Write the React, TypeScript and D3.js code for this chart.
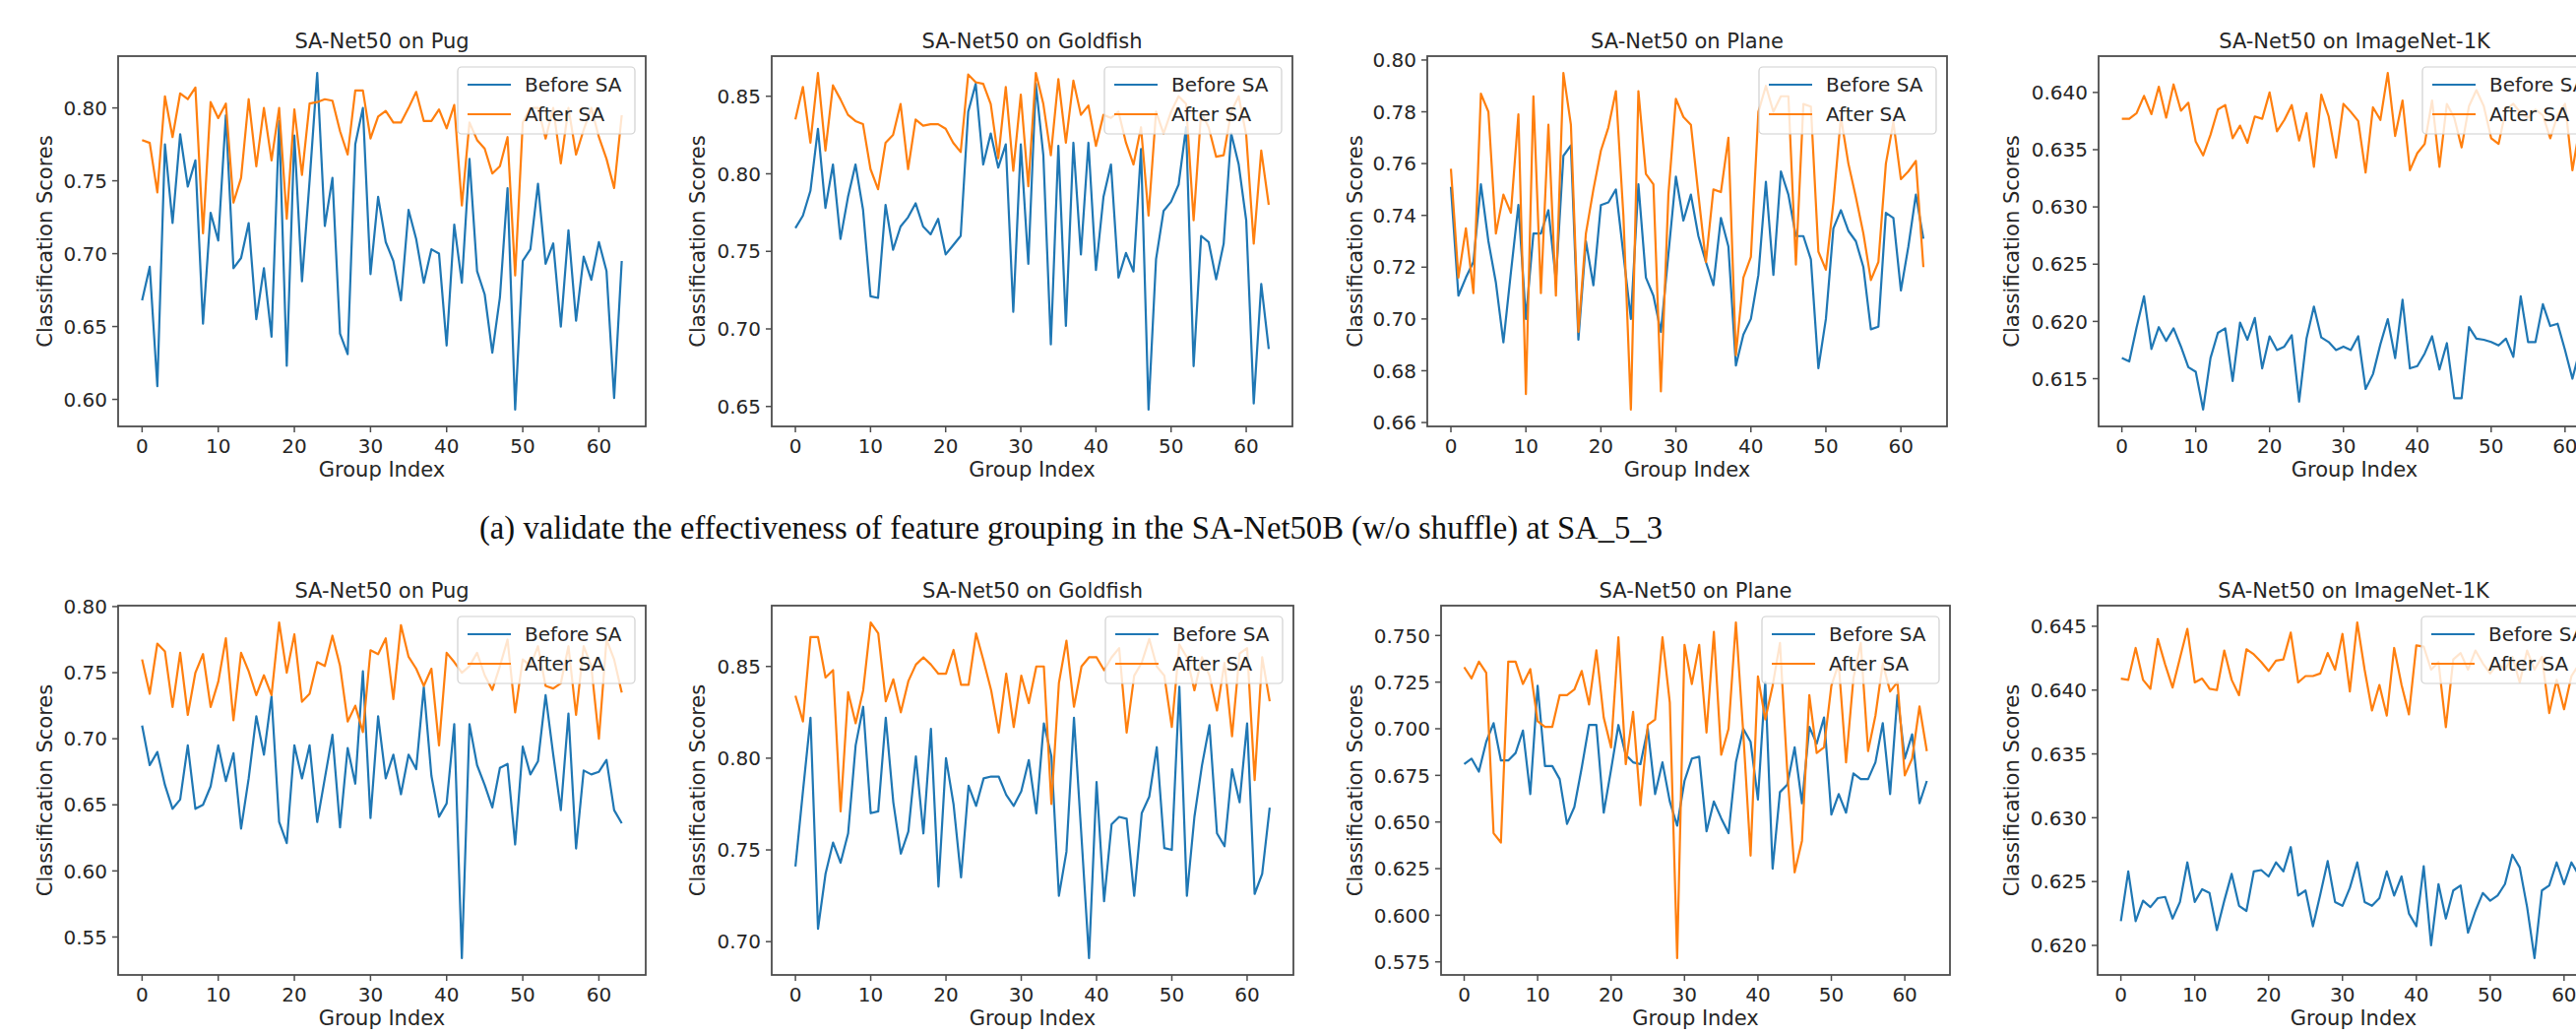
import React from "react";
import * as d3 from "d3";

// group index 0..63
const groupIndex = d3.range(64);
const xTicks = [0, 10, 20, 30, 40, 50, 60];

const titles = [
  "SA-Net50 on Pug",
  "SA-Net50 on Goldfish",
  "SA-Net50 on Plane",
  "SA-Net50 on ImageNet-1K",
  "SA-Net50 on Pug",
  "SA-Net50 on Goldfish",
  "SA-Net50 on Plane",
  "SA-Net50 on ImageNet-1K",
];

const caption =
  "(a) validate the effectiveness of feature grouping in the SA-Net50B (w/o shuffle) at SA_5_3";

// row (a)
const pugBeforeA = [0.668,0.691,0.609,0.775,0.721,0.782,0.746,0.764,0.652,0.728,0.709,0.795,0.690,0.697,0.721,0.655,0.690,0.643,0.791,0.623,0.781,0.681,0.750,0.824,0.719,0.752,0.645,0.631,0.775,0.800,0.686,0.739,0.708,0.695,0.668,0.730,0.710,0.680,0.703,0.700,0.637,0.720,0.680,0.765,0.688,0.672,0.632,0.670,0.745,0.593,0.695,0.703,0.748,0.693,0.707,0.650,0.716,0.654,0.698,0.682,0.708,0.688,0.601,0.695];
const pugAfterA = [0.778,0.776,0.742,0.808,0.780,0.810,0.806,0.814,0.714,0.804,0.793,0.803,0.735,0.752,0.806,0.760,0.800,0.764,0.800,0.724,0.799,0.754,0.803,0.804,0.806,0.805,0.784,0.768,0.812,0.812,0.779,0.794,0.798,0.790,0.790,0.800,0.811,0.791,0.791,0.799,0.786,0.802,0.733,0.790,0.778,0.772,0.755,0.760,0.780,0.685,0.790,0.800,0.800,0.779,0.800,0.762,0.800,0.768,0.785,0.800,0.780,0.765,0.745,0.795];

const goldfishBeforeA = [0.765,0.773,0.789,0.829,0.778,0.806,0.758,0.785,0.806,0.777,0.721,0.720,0.780,0.751,0.766,0.772,0.781,0.766,0.761,0.771,0.748,0.754,0.760,0.840,0.858,0.806,0.826,0.804,0.819,0.711,0.819,0.742,0.858,0.812,0.690,0.818,0.702,0.820,0.748,0.820,0.738,0.785,0.806,0.733,0.749,0.737,0.816,0.648,0.745,0.776,0.782,0.793,0.830,0.676,0.760,0.756,0.732,0.755,0.826,0.806,0.770,0.652,0.729,0.687];
const goldfishAfterA = [0.835,0.856,0.820,0.865,0.815,0.857,0.848,0.838,0.834,0.832,0.803,0.790,0.820,0.825,0.845,0.803,0.835,0.831,0.832,0.832,0.829,0.820,0.814,0.864,0.859,0.858,0.845,0.810,0.856,0.802,0.851,0.792,0.865,0.845,0.812,0.861,0.820,0.860,0.838,0.844,0.818,0.838,0.836,0.840,0.820,0.806,0.830,0.773,0.840,0.826,0.840,0.850,0.845,0.770,0.840,0.830,0.811,0.812,0.840,0.850,0.825,0.755,0.815,0.780];

const planeBeforeA = [0.751,0.709,0.716,0.722,0.752,0.730,0.714,0.691,0.718,0.744,0.700,0.733,0.733,0.742,0.715,0.763,0.767,0.692,0.730,0.713,0.744,0.745,0.750,0.725,0.700,0.752,0.716,0.709,0.695,0.725,0.755,0.738,0.748,0.732,0.722,0.713,0.739,0.728,0.682,0.694,0.700,0.717,0.753,0.717,0.757,0.748,0.732,0.732,0.723,0.681,0.700,0.735,0.742,0.734,0.730,0.720,0.696,0.697,0.741,0.739,0.711,0.728,0.748,0.731];
const planeAfterA = [0.758,0.716,0.735,0.710,0.787,0.780,0.733,0.748,0.741,0.779,0.671,0.786,0.710,0.775,0.709,0.795,0.775,0.695,0.733,0.750,0.765,0.774,0.788,0.740,0.665,0.788,0.756,0.752,0.672,0.748,0.785,0.778,0.775,0.748,0.722,0.750,0.749,0.770,0.686,0.716,0.724,0.780,0.790,0.780,0.786,0.786,0.721,0.783,0.782,0.726,0.719,0.745,0.778,0.760,0.747,0.733,0.715,0.722,0.760,0.776,0.754,0.757,0.761,0.720];

const imagenetBeforeA = [0.6168,0.6165,0.6195,0.6222,0.6176,0.6195,0.6183,0.6194,0.6178,0.6160,0.6156,0.6123,0.6168,0.6190,0.6194,0.6148,0.6199,0.6184,0.6203,0.6159,0.6187,0.6175,0.6178,0.6188,0.6130,0.6185,0.6213,0.6186,0.6182,0.6175,0.6178,0.6175,0.6187,0.6141,0.6154,0.6180,0.6202,0.6168,0.6219,0.6159,0.6161,0.6172,0.6187,0.6158,0.6181,0.6133,0.6133,0.6195,0.6185,0.6184,0.6182,0.6179,0.6185,0.6169,0.6222,0.6182,0.6182,0.6215,0.6196,0.6198,0.6175,0.6150,0.6175,0.6180];
const imagenetAfterA = [0.6377,0.6377,0.6382,0.6397,0.6381,0.6405,0.6378,0.6407,0.6384,0.6391,0.6357,0.6345,0.6363,0.6385,0.6389,0.6360,0.6371,0.6356,0.6379,0.6377,0.6400,0.6366,0.6376,0.6389,0.6358,0.6382,0.6335,0.6398,0.6379,0.6343,0.6390,0.6383,0.6375,0.6330,0.6387,0.6376,0.6417,0.6362,0.6393,0.6332,0.6347,0.6355,0.6393,0.6335,0.6390,0.6378,0.6352,0.6388,0.6402,0.6388,0.6360,0.6355,0.6385,0.6390,0.6382,0.6378,0.6385,0.6380,0.6360,0.6380,0.6390,0.6332,0.6370,0.6380];

// row (b)
const pugBeforeB = [0.710,0.680,0.690,0.665,0.647,0.654,0.695,0.647,0.650,0.664,0.695,0.668,0.689,0.632,0.670,0.717,0.688,0.732,0.637,0.621,0.695,0.670,0.695,0.637,0.670,0.703,0.633,0.693,0.666,0.751,0.640,0.717,0.670,0.688,0.658,0.688,0.677,0.739,0.672,0.641,0.651,0.711,0.534,0.711,0.680,0.665,0.648,0.678,0.681,0.620,0.694,0.673,0.683,0.733,0.688,0.646,0.719,0.617,0.676,0.673,0.675,0.684,0.646,0.636];
const pugAfterB = [0.760,0.734,0.772,0.766,0.724,0.765,0.718,0.750,0.764,0.724,0.743,0.776,0.714,0.765,0.751,0.733,0.748,0.733,0.788,0.750,0.779,0.728,0.734,0.758,0.755,0.778,0.755,0.713,0.725,0.705,0.767,0.764,0.776,0.730,0.786,0.762,0.753,0.740,0.753,0.695,0.765,0.758,0.750,0.755,0.765,0.748,0.737,0.755,0.775,0.720,0.760,0.755,0.770,0.740,0.738,0.742,0.770,0.718,0.770,0.755,0.700,0.775,0.760,0.735];

const goldfishBeforeB = [0.741,0.782,0.822,0.707,0.737,0.754,0.743,0.759,0.807,0.828,0.770,0.771,0.822,0.776,0.748,0.760,0.801,0.759,0.816,0.730,0.800,0.775,0.735,0.785,0.774,0.789,0.790,0.790,0.780,0.774,0.782,0.799,0.770,0.819,0.801,0.725,0.749,0.822,0.757,0.691,0.787,0.722,0.764,0.768,0.767,0.725,0.770,0.779,0.806,0.751,0.750,0.839,0.725,0.768,0.796,0.818,0.759,0.752,0.794,0.776,0.819,0.726,0.737,0.773];
const goldfishAfterB = [0.834,0.820,0.866,0.866,0.844,0.848,0.771,0.836,0.819,0.837,0.874,0.868,0.831,0.843,0.825,0.842,0.851,0.855,0.851,0.846,0.846,0.859,0.840,0.840,0.868,0.853,0.837,0.814,0.846,0.817,0.845,0.830,0.850,0.850,0.775,0.841,0.864,0.828,0.850,0.855,0.855,0.848,0.855,0.860,0.814,0.845,0.852,0.865,0.850,0.845,0.817,0.862,0.855,0.837,0.855,0.845,0.826,0.852,0.812,0.857,0.860,0.788,0.855,0.831];

const planeBeforeB = [0.681,0.684,0.677,0.693,0.703,0.683,0.683,0.687,0.699,0.665,0.723,0.680,0.680,0.673,0.649,0.658,0.679,0.702,0.702,0.655,0.678,0.702,0.686,0.682,0.681,0.700,0.665,0.682,0.661,0.648,0.672,0.684,0.685,0.645,0.661,0.652,0.644,0.682,0.700,0.693,0.662,0.725,0.625,0.666,0.670,0.690,0.660,0.701,0.692,0.706,0.654,0.665,0.655,0.676,0.673,0.673,0.682,0.703,0.665,0.718,0.684,0.697,0.660,0.672];
const planeAfterB = [0.733,0.727,0.736,0.730,0.644,0.639,0.736,0.736,0.724,0.732,0.704,0.701,0.701,0.718,0.718,0.721,0.731,0.713,0.742,0.706,0.690,0.749,0.681,0.709,0.659,0.702,0.705,0.749,0.714,0.577,0.745,0.724,0.745,0.698,0.752,0.686,0.700,0.757,0.698,0.632,0.728,0.705,0.723,0.746,0.677,0.623,0.640,0.718,0.687,0.690,0.723,0.735,0.682,0.727,0.746,0.688,0.707,0.735,0.720,0.725,0.675,0.684,0.712,0.688];

const imagenetBeforeB = [0.6219,0.6258,0.6219,0.6235,0.6230,0.6237,0.6238,0.6221,0.6234,0.6265,0.6234,0.6244,0.6241,0.6212,0.6235,0.6256,0.6231,0.6227,0.6258,0.6259,0.6254,0.6265,0.6258,0.6277,0.6239,0.6243,0.6215,0.6240,0.6266,0.6234,0.6231,0.6245,0.6265,0.6234,0.6231,0.6237,0.6258,0.6239,0.6254,0.6225,0.6215,0.6262,0.6200,0.6248,0.6221,0.6243,0.6247,0.6210,0.6227,0.6241,0.6235,0.6239,0.6248,0.6271,0.6261,0.6230,0.6190,0.6243,0.6247,0.6265,0.6248,0.6265,0.6255,0.6245];
const imagenetAfterB = [0.6409,0.6408,0.6433,0.6408,0.6401,0.6440,0.6420,0.6402,0.6425,0.6448,0.6406,0.6409,0.6401,0.6400,0.6431,0.6408,0.6396,0.6432,0.6428,0.6422,0.6415,0.6423,0.6424,0.6445,0.6406,0.6411,0.6411,0.6413,0.6429,0.6416,0.6444,0.6399,0.6453,0.6416,0.6384,0.6404,0.6380,0.6433,0.6404,0.6381,0.6435,0.6434,0.6416,0.6422,0.6371,0.6424,0.6429,0.6416,0.6431,0.6421,0.6413,0.6421,0.6416,0.6426,0.6406,0.6431,0.6416,0.6426,0.6382,0.6408,0.6385,0.6411,0.6420,0.6410];

// y tick labels per panel
const yTicksPugA = [0.6, 0.65, 0.7, 0.75, 0.8];
const yTicksGoldfishA = [0.65, 0.7, 0.75, 0.8, 0.85];
const yTicksPlaneA = [0.66, 0.68, 0.7, 0.72, 0.74, 0.76, 0.78, 0.8];
const yTicksImagenetA = [0.615, 0.62, 0.625, 0.63, 0.635, 0.64];
const yTicksPugB = [0.55, 0.6, 0.65, 0.7, 0.75, 0.8];
const yTicksGoldfishB = [0.7, 0.75, 0.8, 0.85];
const yTicksPlaneB = [0.575, 0.6, 0.625, 0.65, 0.675, 0.7, 0.725, 0.75];
const yTicksImagenetB = [0.62, 0.625, 0.63, 0.635, 0.64, 0.645];

const seriesNames = ["Before SA", "After SA"];
const colors = ["#1f77b4", "#ff7f0e"];

// panel boxes in page pixels
const boxes = [
  { left: 120, right: 656, top: 57, bottom: 433, labelX: 45, dec: 2 },
  { left: 784, right: 1313, top: 57, bottom: 433, labelX: 708, dec: 2 },
  { left: 1450, right: 1978, top: 57, bottom: 433, labelX: 1376, dec: 2 },
  { left: 2132, right: 2652, top: 57, bottom: 433, labelX: 2043, dec: 3 },
  { left: 120, right: 656, top: 615, bottom: 990, labelX: 45, dec: 2 },
  { left: 784, right: 1314, top: 615, bottom: 990, labelX: 708, dec: 2 },
  { left: 1464, right: 1981, top: 615, bottom: 990, labelX: 1376, dec: 3 },
  { left: 2131, right: 2651, top: 615, bottom: 990, labelX: 2043, dec: 3 },
];

const panels = [
  [pugBeforeA, pugAfterA, yTicksPugA],
  [goldfishBeforeA, goldfishAfterA, yTicksGoldfishA],
  [planeBeforeA, planeAfterA, yTicksPlaneA],
  [imagenetBeforeA, imagenetAfterA, yTicksImagenetA],
  [pugBeforeB, pugAfterB, yTicksPugB],
  [goldfishBeforeB, goldfishAfterB, yTicksGoldfishB],
  [planeBeforeB, planeAfterB, yTicksPlaneB],
  [imagenetBeforeB, imagenetAfterB, yTicksImagenetB],
];

const FONT = "DejaVu Sans, Verdana, sans-serif";
const INK = "#262626";
const SPINE = "#4d4d4d";

function Panel({ idx }: { idx: number }) {
  const b = boxes[idx];
  const [before, after, yTicks] = panels[idx] as [number[], number[], number[]];
  const all = before.concat(after);
  const [lo, hi] = d3.extent(all) as [number, number];
  const pad = (hi - lo) * 0.05;

  const x = d3.scaleLinear().domain([-3.15, 66.15]).range([b.left, b.right]);
  const y = d3.scaleLinear().domain([lo - pad, hi + pad]).range([b.bottom, b.top]);
  const line = d3
    .line<number>()
    .x((_, i) => x(groupIndex[i]))
    .y((d) => y(d));

  const fmt = d3.format(`.${b.dec}f`);
  const clipId = `clip-${idx}`;
  const midX = (b.left + b.right) / 2;
  const midY = (b.top + b.bottom) / 2;

  // legend geometry (upper right)
  const lw = 180, lh = 68;
  const lx = b.right - 11 - lw;
  const ly = b.top + 11;

  return (
    <g>
      <defs>
        <clipPath id={clipId}>
          <rect x={b.left} y={b.top} width={b.right - b.left} height={b.bottom - b.top} />
        </clipPath>
      </defs>
      <rect x={b.left} y={b.top} width={b.right - b.left} height={b.bottom - b.top} fill="#fff" />

      <g clipPath={`url(#${clipId})`}>
        {[before, after].map((s, k) => (
          <path key={k} d={line(s) || ""} fill="none" stroke={colors[k]} strokeWidth={2.2} strokeLinejoin="round" />
        ))}
      </g>

      <rect x={b.left} y={b.top} width={b.right - b.left} height={b.bottom - b.top} fill="none" stroke={SPINE} strokeWidth={1.8} />

      {/* y axis */}
      {yTicks.map((t) => (
        <g key={t}>
          <line x1={b.left - 6} x2={b.left} y1={y(t)} y2={y(t)} stroke={SPINE} strokeWidth={1.5} />
          <text x={b.left - 11} y={y(t)} dy="0.36em" textAnchor="end" fontSize={20} fill={INK} fontFamily={FONT}>
            {fmt(t)}
          </text>
        </g>
      ))}
      <text
        transform={`translate(${b.labelX},${midY}) rotate(-90)`}
        textAnchor="middle"
        dy="0.36em"
        fontSize={21}
        fill={INK}
        fontFamily={FONT}
      >
        Classification Scores
      </text>

      {/* x axis */}
      {xTicks.map((t) => (
        <g key={t}>
          <line x1={x(t)} x2={x(t)} y1={b.bottom} y2={b.bottom + 6} stroke={SPINE} strokeWidth={1.5} />
          <text x={x(t)} y={b.bottom + 27} textAnchor="middle" fontSize={20} fill={INK} fontFamily={FONT}>
            {t}
          </text>
        </g>
      ))}
      <text x={midX} y={b.bottom + 51} textAnchor="middle" fontSize={21} fill={INK} fontFamily={FONT}>
        Group Index
      </text>

      <text x={midX} y={b.top - 8} textAnchor="middle" fontSize={21} fill={INK} fontFamily={FONT}>
        {titles[idx]}
      </text>

      {/* legend */}
      <rect x={lx} y={ly} width={lw} height={lh} rx={4} fill="#fff" fillOpacity={0.8} stroke="#d0d0d0" strokeWidth={1.2} />
      {seriesNames.map((n, k) => (
        <g key={n}>
          <line x1={lx + 10} x2={lx + 54} y1={ly + 18 + k * 30} y2={ly + 18 + k * 30} stroke={colors[k]} strokeWidth={2.2} />
          <text x={lx + 68} y={ly + 18 + k * 30} dy="0.36em" fontSize={20} fill={INK} fontFamily={FONT}>
            {n}
          </text>
        </g>
      ))}
    </g>
  );
}

export default function App() {
  return (
    <svg
      width={2617}
      height={1052}
      style={{ position: "absolute", left: 0, top: 0, background: "#fff" }}
    >
      <rect width={2617} height={1052} fill="#fff" />
      {boxes.map((_, i) => (
        <Panel key={i} idx={i} />
      ))}
      <text
        x={487}
        y={547}
        fontSize={33}
        fill="#111"
        fontFamily="Liberation Serif, Times New Roman, serif"
        textLength={1202}
        lengthAdjust="spacingAndGlyphs"
      >
        {caption}
      </text>
    </svg>
  );
}
